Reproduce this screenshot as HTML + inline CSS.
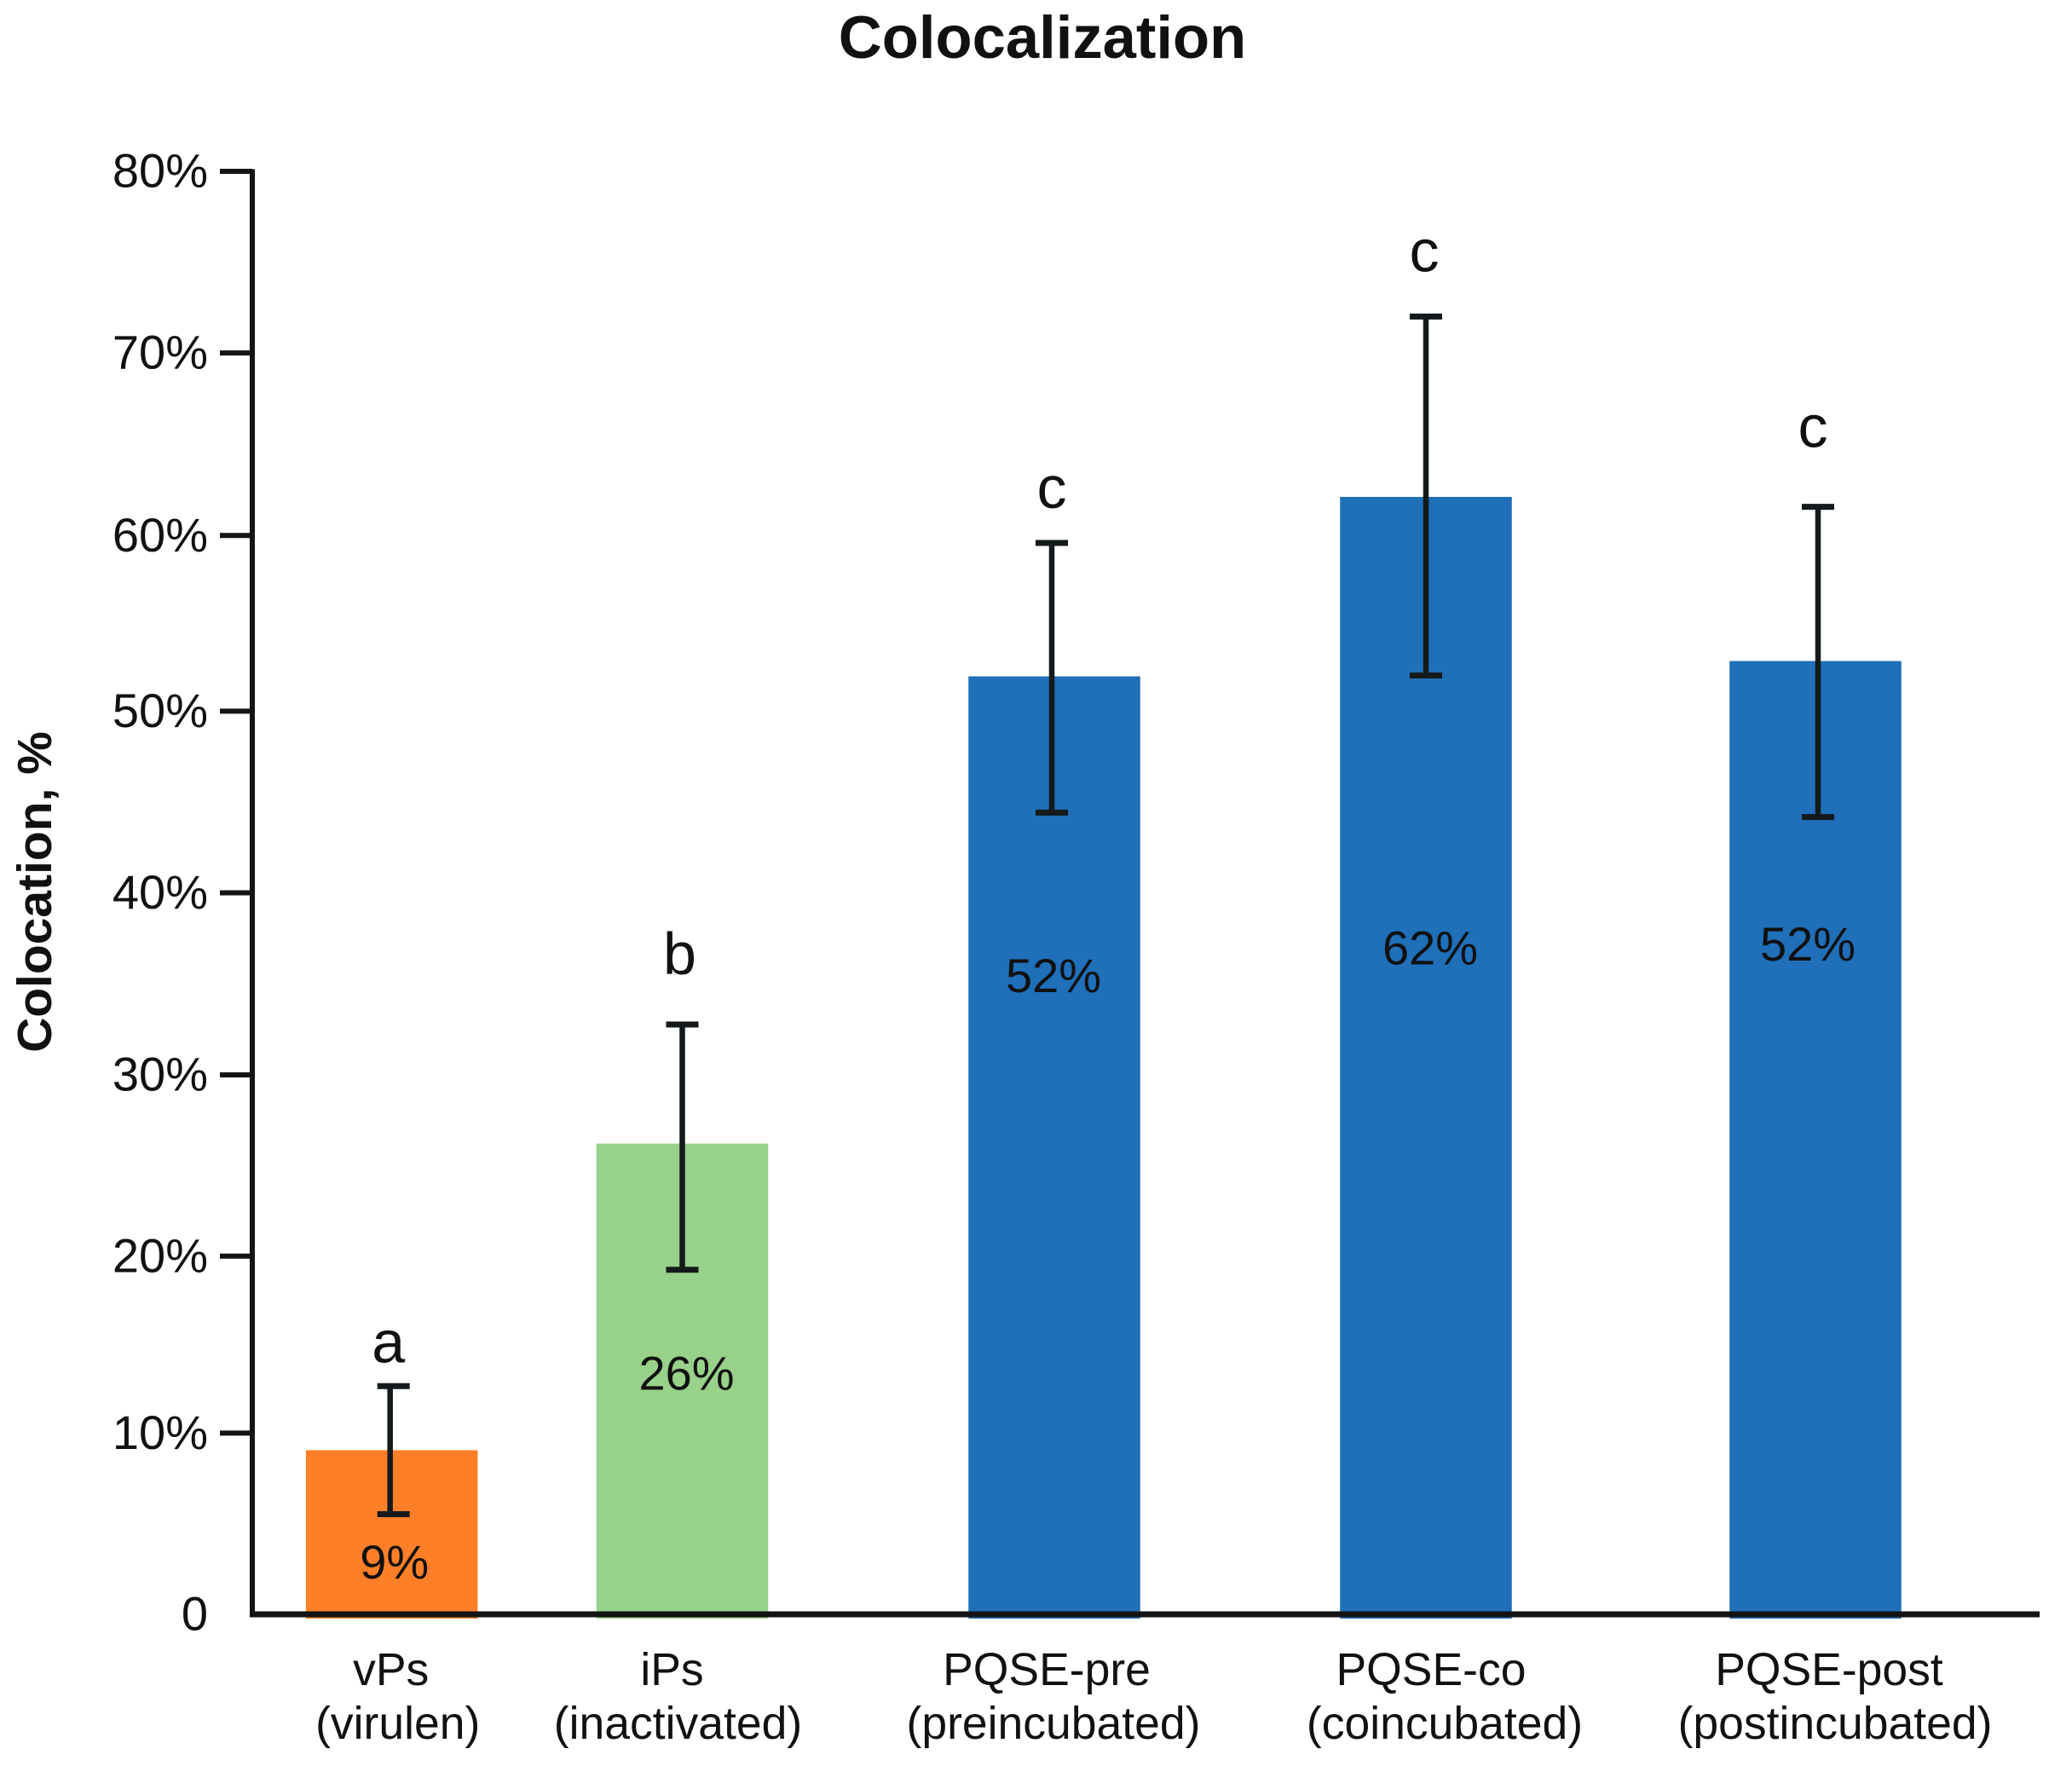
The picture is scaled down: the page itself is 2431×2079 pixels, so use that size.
<!DOCTYPE html>
<html lang="en">
<head>
<meta charset="utf-8">
<title>Colocalization</title>
<style>
  html, body { margin: 0; padding: 0; background: #fff; }
  svg { display: block; }
  text { font-family: "Liberation Sans", Arial, sans-serif; fill: #111; }
</style>
</head>
<body>
<svg id="chart" xmlns="http://www.w3.org/2000/svg" width="2431" height="2079" viewBox="0 0 2431 2079">
  <rect x="0" y="0" width="2431" height="2079" fill="#ffffff"/>
  <text x="1223" y="68" font-size="70.6" font-weight="700" text-anchor="middle">Colocalization</text>
  <text transform="translate(60 1046.5) rotate(-90)" font-size="57" font-weight="700" text-anchor="middle">Colocation, %</text>
  <g id="bars"></g>
  <g id="axes"></g>
  <g id="errors"></g>
  <g id="labels"></g>
</svg>
<script>
// Chart data
const categories = ["vPs", "iPs", "PQSE-pre", "PQSE-co", "PQSE-post"];
const categoryDetails = ["(virulen)", "(inactivated)", "(preincubated)", "(coincubated)", "(postincubated)"];
const colocalization = [9.1, 26.1, 52, 61.95, 52.85];
const errorUpper = [12.65, 32.7, 59.4, 71.95, 61.4];
const errorLower = [5.55, 19.1, 44.45, 52.05, 44.2];
const printedValues = ["9%", "26%", "52%", "62%", "52%"];
const significance = ["a", "b", "c", "c", "c"];
const yTickValues = [0, 10, 20, 30, 40, 50, 60, 70, 80];
const yTickLabels = ["0", "10%", "20%", "30%", "40%", "50%", "60%", "70%", "80%"];

// Layout (not data)
const layout = {
  axisX: 296, baseY: 1894, topY: 201, yMax: 80, axisEnd: 2393,
  barWidth: 201.5,
  barCenter: [459.7, 800.5, 1237, 1673, 2130],
  tickNudge: [0, -1, 3, 2, 0, -1.5, 4, 1.5, 0],
  errorNudge: [-2, 0, -3, 0, 3],
  capNudge: [4, 0, 0, 0, 0],
  valueNudge: [3, 5, -1, 5, -9],
  valueFrac: [0.30, 0.506, 0.678, 0.594, 0.70],
  letterNudge: [-4, -3, -3, -2, -3],
  letterGap: [28, 59, 41, 53, 70],
  nameNudge: [-1, -12, -9, 6, 16],
  detailNudge: [7, -5, -1, 22, 23],
  colors: ["#fe7f27", "#98d189", "#1f6fb9", "#1f6fb9", "#1f6fb9"]
};

function yScale(v) {
  return layout.baseY - (v / layout.yMax) * (layout.baseY - layout.topY);
}
function xScale(i) {
  return layout.barCenter[i];
}

const NS = "http://www.w3.org/2000/svg";
const barsGroup = document.getElementById("bars");
const axesGroup = document.getElementById("axes");
const errorsGroup = document.getElementById("errors");
const labelsGroup = document.getElementById("labels");

function setAttrs(el, attrs) {
  Object.keys(attrs).forEach(function (k) { el.setAttribute(k, attrs[k]); });
}
function slug(s) {
  return s.toLowerCase().replace(/[^a-z0-9]+/g, "-").replace(/^-|-$/g, "");
}
function makeLine(x1, y1, x2, y2, width, color) {
  const el = document.createElementNS(NS, "line");
  setAttrs(el, { x1: x1, y1: y1, x2: x2, y2: y2, stroke: color, "stroke-width": width });
  return el;
}
function makeText(str, x, y, size, anchor) {
  const el = document.createElementNS(NS, "text");
  setAttrs(el, { x: x, y: y, "font-size": size, "text-anchor": anchor });
  el.textContent = str;
  return el;
}

// Y axis
const yAxisLine = makeLine(layout.axisX, layout.topY - 2.5, layout.axisX, layout.baseY + 3, 6, "#141414");


axesGroup.appendChild(yAxisLine);

// X axis
const xAxisLine = makeLine(layout.axisX - 3, layout.baseY, layout.axisEnd, layout.baseY, 7, "#141414");


axesGroup.appendChild(xAxisLine);

// Y ticks
yTickValues.forEach(function (v, i) {
  const y = yScale(v) + layout.tickNudge[i];
  if (v > 0) {
    const tick = makeLine(258, y, layout.axisX, y, 6, "#141414");
    
    
    axesGroup.appendChild(tick);
  }
  const label = makeText(yTickLabels[i], 244, y + 18.5, 56, "end");
  
  
  axesGroup.appendChild(label);
});

// Bars, error bars, labels
categories.forEach(function (cat, i) {
  const cx = xScale(i);
  const key = slug(cat);

  const top = yScale(colocalization[i]);
  const bar = document.createElementNS(NS, "rect");
  setAttrs(bar, { x: cx - layout.barWidth / 2, y: top, width: layout.barWidth, height: layout.baseY + 5 - top, fill: layout.colors[i] });
  
  
  barsGroup.appendChild(bar);

  const ex = cx + layout.errorNudge[i];
  const capX = ex + layout.capNudge[i];
  const yU = yScale(errorUpper[i]);
  const yL = yScale(errorLower[i]);

  const stem = makeLine(ex, yU, ex, yL, 6.5, "#141a1c");
  
  
  errorsGroup.appendChild(stem);

  const capU = makeLine(capX - 19, yU, capX + 19, yU, 7, "#141a1c");
  
  
  errorsGroup.appendChild(capU);

  const capL = makeLine(capX - 19, yL, capX + 19, yL, 7, "#141a1c");
  
  
  errorsGroup.appendChild(capL);

  const valueY = layout.baseY - (layout.baseY - top) * layout.valueFrac[i] + 16;
  const valueLabel = makeText(printedValues[i], cx + layout.valueNudge[i], valueY, 56, "middle");
  
  
  labelsGroup.appendChild(valueLabel);

  const letter = makeText(significance[i], cx + layout.letterNudge[i], yU - layout.letterGap[i], 70, "middle");
  
  
  labelsGroup.appendChild(letter);

  const name = makeText(cat, cx + layout.nameNudge[i], 1977, 53.5, "middle");
  
  
  labelsGroup.appendChild(name);

  const detail = makeText(categoryDetails[i], cx + layout.detailNudge[i], 2040, 53.5, "middle");
  
  
  labelsGroup.appendChild(detail);
});
</script>
</body>
</html>
